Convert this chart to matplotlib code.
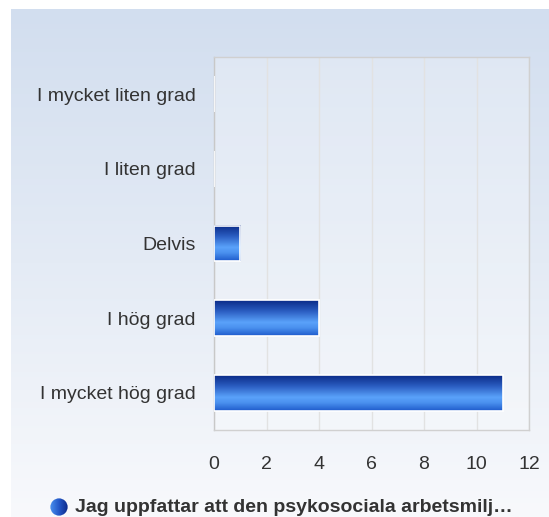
import matplotlib.pyplot as plt
import numpy as np
from matplotlib.colors import LinearSegmentedColormap
from matplotlib.patches import Circle

# Data
categories = ["I mycket liten grad", "I liten grad", "Delvis", "I hög grad", "I mycket hög grad"]
values = [0, 0, 1, 4, 11]
series_name = "Jag uppfattar att den psykosociala arbetsmilj…"
x_ticks = [0, 2, 4, 6, 8, 10, 12]

plt.rcParams['font.family'] = ['Liberation Sans', 'DejaVu Sans']

W, H = 549, 517
fig = plt.figure(figsize=(W / 100, H / 100), dpi=100)
fig.patch.set_facecolor("white")

# panel background gradient
bg = fig.add_axes([11 / W, 0, 1 - 11 / W, (H - 9) / H])
bg_cmap = LinearSegmentedColormap.from_list("bg", ["#d2deef", "#e4ebf5", "#f8f9fc"])
bg.imshow(np.linspace(0, 1, 256).reshape(-1, 1), aspect="auto", cmap=bg_cmap,
          extent=[0, 1, 0, 1], origin="upper")
bg.set_axis_off()

# main axes
left, right, top, bottom = 214, 529, 57, 430
ax = fig.add_axes([left / W, (H - bottom) / H, (right - left) / W, (bottom - top) / H])
ax.set_facecolor((1, 1, 1, 0.25))

y = np.arange(len(categories))[::-1]
bar_h = 0.48
bar_cmap = LinearSegmentedColormap.from_list(
    "bar", [(0, "#0b2c88"), (0.3, "#2a5cc0"), (0.62, "#5aa2fa"),
            (0.78, "#4a90ee"), (1, "#1f5ccc")])
grad = np.linspace(0, 1, 64).reshape(-1, 1)

for yi, v in zip(y, values):
    if v > 0:
        ax.imshow(grad, aspect="auto", cmap=bar_cmap, origin="upper",
                  extent=[0, v, yi - bar_h / 2, yi + bar_h / 2], zorder=3)
    ax.barh(yi, v, height=bar_h, facecolor="none", edgecolor="white",
            linewidth=1.2, zorder=4)

ax.set_xlim(0, 12)
ax.set_ylim(-0.5, len(categories) - 0.5)
ax.set_xticks(x_ticks)
ax.set_xticklabels([str(t) for t in x_ticks])
ax.set_yticks(y)
ax.set_yticklabels(categories)
ax.tick_params(length=0, labelsize=14, labelcolor="#333333", pad=13)
ax.tick_params(axis="x", pad=19)
ax.grid(axis="x", color="#e2e2e2", linewidth=1, zorder=0)
ax.set_axisbelow(True)
for s in ax.spines.values():
    s.set_color("#d0d0d0")
    s.set_linewidth(1)
ax.spines["left"].set_color("#c8c8c8")

# legend
lax = fig.add_axes([50 / W, (H - 516) / H, 18 / W, 18 / H])
lax.set_xlim(0, 1)
lax.set_ylim(0, 1)
img = lax.imshow(np.linspace(0, 1, 64).reshape(1, -1), aspect="auto",
                 cmap=LinearSegmentedColormap.from_list("lg", ["#4a90ee", "#2458c8", "#0c2a8a"]),
                 extent=[0, 1, 0, 1])
circ = Circle((0.5, 0.5), 0.48, transform=lax.transData)
img.set_clip_path(circ)
lax.set_axis_off()
fig.text(75 / W, (H - 507) / H, series_name, fontsize=14, fontweight="bold",
         color="#333333", va="center", ha="left")

fig.savefig("out.png", dpi=100)
